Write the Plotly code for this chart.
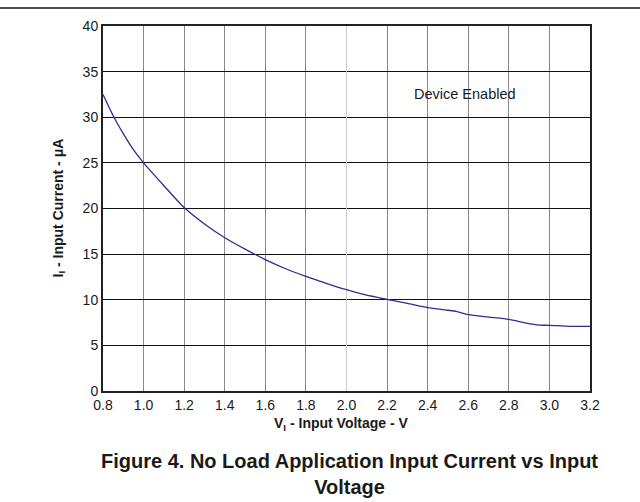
import plotly.graph_objects as go

# Input voltage (V) and no-load input current (uA)
voltage = [0.80, 0.854, 0.90, 0.948, 1.00, 1.10, 1.20, 1.30, 1.40, 1.50,
           1.60, 1.70, 1.80, 1.867, 1.90, 2.00, 2.10, 2.20, 2.30, 2.40, 2.50, 2.541,
           2.60, 2.70, 2.80, 2.886, 2.95, 3.00, 3.10, 3.20]
current = [32.5, 30.0, 28.2, 26.5, 25.0, 22.5, 20.1, 18.3, 16.8, 15.55,
           14.4, 13.4, 12.56, 12.05, 11.8, 11.1, 10.5, 10.05, 9.6, 9.13, 8.85, 8.73,
           8.37, 8.1, 7.85, 7.45, 7.23, 7.2, 7.09, 7.08]

x_ticks = [0.8, 1.0, 1.2, 1.4, 1.6, 1.8, 2.0, 2.2, 2.4, 2.6, 2.8, 3.0, 3.2]
x_tick_text = ["0.8", "1.0", "1.2", "1.4", "1.6", "1.8", "2.0", "2.2", "2.4", "2.6", "2.8", "3.0", "3.2"]
y_ticks = [0, 5, 10, 15, 20, 25, 30, 35, 40]

FONT = "Liberation Sans, Arial, sans-serif"
INK = "#1a1a1a"

fig = go.Figure()
fig.add_trace(go.Scatter(
    x=voltage, y=current, mode="lines",
    line=dict(color="#2a2e96", width=1.3, shape="spline", smoothing=0.6),
    showlegend=False, hoverinfo="skip",
))

fig.update_layout(
    width=640, height=502,
    margin=dict(l=103, r=50, t=26, b=111),
    paper_bgcolor="white", plot_bgcolor="white",
    font=dict(family=FONT, color=INK, size=14),
    xaxis=dict(
        range=[0.8, 3.2], tickvals=x_ticks, ticktext=x_tick_text,
        showgrid=True, gridcolor="#8a8a8a", gridwidth=1,
        showline=True, linecolor="#222", linewidth=2, mirror=True,
        ticks="", zeroline=False, tickfont=dict(size=14, color=INK),
        fixedrange=True,
    ),
    yaxis=dict(
        range=[0, 40], tickvals=y_ticks,
        showgrid=True, gridcolor="#111", gridwidth=1,
        showline=True, linecolor="#222", linewidth=2, mirror=True,
        ticks="", zeroline=False, tickfont=dict(size=14, color=INK),
        fixedrange=True,
    ),
    shapes=[
        # lighter grid line at 2.0 V
        dict(type="line", xref="x", yref="y", x0=2.0, x1=2.0, y0=0, y1=40,
             line=dict(color="#cdcdcd", width=1), layer="between"),
        # rule across the top of the page
        dict(type="line", xref="paper", yref="paper", x0=-0.2115, x1=1.1027,
             y0=1.049, y1=1.049, line=dict(color="#111", width=1.5)),
    ],
    annotations=[
        dict(text="Device Enabled", x=2.582, y=32.6, xref="x", yref="y",
             showarrow=False, font=dict(size=14.5, color=INK)),
        dict(text="<b>V<sub>I</sub> - Input Voltage - V</b>", x=0.49, y=-0.09,
             xref="paper", yref="paper", showarrow=False,
             xanchor="center", yanchor="middle", font=dict(size=14, color=INK)),
        dict(text="<b>I<sub>I</sub> - Input Current - \u03bcA</b>", x=-0.0924, y=0.5,
             xref="paper", yref="paper", showarrow=False, textangle=-90,
             xanchor="center", yanchor="middle", font=dict(size=14, color=INK)),
        dict(text="<b>Figure 4. No Load Application Input Current vs Input<br>Voltage</b>",
             x=0.507, y=-0.227, xref="paper", yref="paper", showarrow=False,
             xanchor="center", yanchor="middle", align="center",
             font=dict(size=20, color=INK)),
    ],
)

fig.write_html("out.html")
